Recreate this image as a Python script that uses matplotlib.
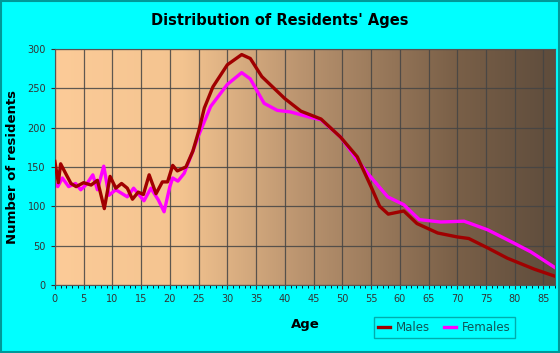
import numpy as np
import matplotlib
matplotlib.use("Agg")
import matplotlib.pyplot as plt
from matplotlib.colors import LinearSegmentedColormap

# data
male_ages = [0, 0.6, 1, 2, 2.8, 3.7, 5, 6.3, 7.4, 8.6, 9.6, 10.6, 11.6, 12.6,
             13.5, 14.5, 15.4, 16.4, 17.6, 18.7, 19.6, 20.5, 21.3, 22.8, 24,
             25, 26, 27.5, 30, 32.5, 34, 36, 40, 42.8, 46.3, 49.7, 52.6, 55,
             56.5, 58, 60.7, 63, 66.6, 70, 72, 75.3, 78.7, 83.4, 87]
males = [157, 130, 154, 140, 129, 125, 130, 127, 133, 97, 138, 123, 129, 123,
         109, 118, 115, 140, 116, 131, 131, 152, 145, 150, 170,
         195, 225, 252, 280, 293, 288, 265, 237, 221, 211, 188, 163, 125,
         100, 90, 94, 78, 66, 61, 59, 47, 34, 20, 11]

female_ages = [0, 0.5, 1.3, 2.4, 3.6, 4.5, 5.5, 6.6, 7.4, 8.5, 9.4, 10.6, 12.6,
               13.7, 15.5, 16.7, 18, 19, 20, 20.5, 21.4, 22.5, 24, 25, 27.1,
               30, 32.5, 34, 36.4, 38.7, 41, 44.5, 46.3, 49.7, 52, 54.4, 57.9,
               60.7, 63.4, 67.1, 71.2, 75.3, 79.9, 82.8, 87]
females = [129, 125, 136, 125, 129, 121, 128, 140, 121, 151, 114, 121, 112,
           123, 107, 123, 108, 93, 125, 136, 132, 142, 170, 190, 227,
           255, 270, 262, 231, 222, 220, 213, 210, 188, 165, 142, 112,
           102, 83, 80, 81, 70, 53, 42, 22]

x_ticks = list(range(0, 90, 5))
y_ticks = list(range(0, 301, 50))

fig = plt.figure(figsize=(5.6, 3.53), dpi=100, facecolor="#00FFFF")
fig.patches.append(plt.Rectangle((0.001, 0.002), 0.997, 0.995, transform=fig.transFigure,
                                 fill=False, edgecolor="#009999", linewidth=1.5))
ax = fig.add_axes([0.098, 0.193, 0.893, 0.668])

# horizontal gradient background
cmap = LinearSegmentedColormap.from_list(
    "bg", [(0, "#FCCB98"), (0.25, "#F4C490"), (0.5, "#B8926E"),
           (0.8, "#7A6048"), (1, "#5E4C3C")])
ax.imshow(np.linspace(0, 1, 256).reshape(1, -1), cmap=cmap, aspect="auto",
          extent=[0, 87, 0, 300], zorder=0)

ax.plot(male_ages, males, color="#A00000", linewidth=2.4, label="Males", zorder=3,
        solid_joinstyle="round")
ax.plot(female_ages, females, color="#FF00FF", linewidth=2.4, label="Females", zorder=2,
        solid_joinstyle="round")

ax.set_xlim(0, 87)
ax.set_ylim(0, 300)
ax.set_xticks(x_ticks)
ax.set_yticks(y_ticks)
ax.set_xticks(range(0, 88), minor=True)
ax.grid(True, color="#444444", linewidth=0.9, alpha=0.85)
ax.tick_params(axis="both", labelsize=7, colors="#333333", length=3)
ax.tick_params(axis="x", which="minor", length=2)
for s in ax.spines.values():
    s.set_color("#555555")

ax.set_xlabel("Age", fontsize=9.5, fontweight="bold", labelpad=10)
ax.set_ylabel("Number of residents", fontsize=9.5, fontweight="bold", labelpad=6)
fig.suptitle("Distribution of Residents' Ages", fontsize=10.5, fontweight="bold", y=0.963)

leg = ax.legend(loc="upper left", bbox_to_anchor=(0.626, -0.11), ncol=2, fontsize=8.5,
                frameon=True, facecolor="#00FFFF", edgecolor="#009999", fancybox=False,
                handlelength=1.0, handletextpad=0.5, columnspacing=1.2, borderpad=0.35)
leg.get_frame().set_linewidth(1)
for t in leg.get_texts():
    t.set_color("#115555")

fig.savefig("out.png", dpi=100, facecolor=fig.get_facecolor())
